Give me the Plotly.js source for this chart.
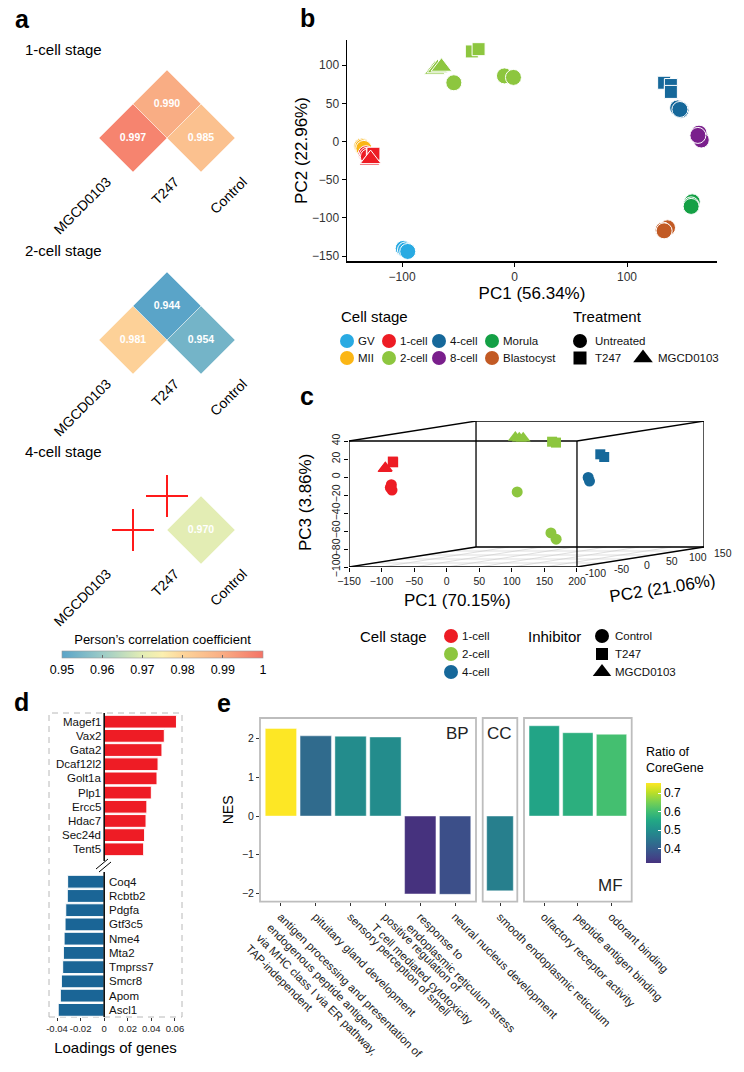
<!DOCTYPE html>
<html><head><meta charset="utf-8">
<script src="https://cdn.plot.ly/plotly-3.0.1.min.js"></script>
<style>html,body{margin:0;padding:0;background:#fff}#chart{width:744px;height:1072px}</style>
</head><body><div id="chart"></div>
<script>
const W = 744, H = 1072;
const FONT = 'Liberation Sans, Arial, Helvetica, sans-serif';

// ---------------- panel a data ----------------
const aTreatments = ['MGCD0103', 'T247', 'Control'];
const aStages = ['1-cell stage', '2-cell stage', '4-cell stage'];
const aPairFirst = [0, 0, 1];
const aPairSecond = [1, 2, 2];
const aCorr1cell = [0.997, 0.990, 0.985];
const aCorr2cell = [0.981, 0.944, 0.954];
const aCorr4cell = [null, null, 0.970];
const aScaleTicks = [0.95, 0.96, 0.97, 0.98, 0.99, 1];

// ---------------- panel b data ----------------
const bStageNames = ['GV', 'MII', '1-cell', '2-cell', '4-cell', '8-cell', 'Morula', 'Blastocyst'];
const bTreatNames = ['Untreated', 'T247', 'MGCD0103'];
const bSampleStage = ['GV','GV','GV','MII','MII','MII',
  '1-cell','1-cell','1-cell','1-cell','1-cell','1-cell','1-cell',
  '2-cell','2-cell','2-cell','2-cell','2-cell','2-cell','2-cell','2-cell',
  '4-cell','4-cell','4-cell','4-cell','4-cell','4-cell',
  '8-cell','8-cell','8-cell','Morula','Morula','Morula','Blastocyst','Blastocyst','Blastocyst'];
const bSampleTreat = ['Untreated','Untreated','Untreated','Untreated','Untreated','Untreated',
  'Untreated','Untreated','Untreated','T247','T247','MGCD0103','MGCD0103',
  'Untreated','Untreated','Untreated','T247','T247','MGCD0103','MGCD0103','MGCD0103',
  'Untreated','Untreated','Untreated','T247','T247','T247',
  'Untreated','Untreated','Untreated','Untreated','Untreated','Untreated','Untreated','Untreated','Untreated'];
const bPC1 = [-99,-97,-95, -136,-135,-134,
  -132,-131,-130,-126,-125.5,-129,-128,
  -54,-9,-1,-38,-32,-71,-68.5,-65,
  145,148,147,133,139,139,
  164,166,163, 158,157,157, 136,132,133];
const bPC2 = [-140,-142,-144, -6,-7,-9,
  -16,-18,-20,-17,-16,-25,-23,
  77,86,84,118,121,94,96,98,
  44,41,42,77,74,65,
  11,2,8, -79,-83,-85, -113,-116,-117];
const bXTicks = [-100, 0, 100];
const bYTicks = [-150, -100, -50, 0, 50, 100];

// ---------------- panel c data ----------------
const cStageNames = ['1-cell', '2-cell', '4-cell'];
const cInhibNames = ['Control', 'T247', 'MGCD0103'];
const cSampleStage = ['1-cell','1-cell','1-cell','1-cell','1-cell','1-cell','1-cell',
  '2-cell','2-cell','2-cell','2-cell','2-cell','2-cell','2-cell','2-cell',
  '4-cell','4-cell','4-cell','4-cell'];
const cSampleInhib = ['Control','Control','Control','T247','T247','MGCD0103','MGCD0103',
  'Control','Control','Control','T247','T247','MGCD0103','MGCD0103','MGCD0103',
  'Control','Control','T247','T247'];
const cPC1 = [-124,-123,-124,-129,-128,-141,-140, -1,82,90,37,43,-35,-29,-23, 108,110,111,117];
const cPC2 = [-50,-50,-52,-40,-42,-40,-42, 40,0,0,60,60,80,80,80, 40,40,60,60];
const cPC3 = [-13,-19,-16,11,12,5,4, -29,-71,-78,25,24,28,27,27, -13,-17,11,8];
const cPC1Ticks = [-150, -100, -50, 0, 50, 100, 150, 200];
const cPC2Ticks = [-100, -50, 0, 50, 100, 150];
const cPC3Ticks = [-100, -80, -60, -40, -20, 0, 20, 40];

// ---------------- panel d data ----------------
const dUpGenes = ['Magef1','Vax2','Gata2','Dcaf12l2','Golt1a','Plp1','Ercc5','Hdac7','Sec24d','Tent5'];
const dUpLoad = [0.0613,0.0510,0.0490,0.0457,0.0448,0.0400,0.0362,0.0355,0.0343,0.0335];
const dDownGenes = ['Coq4','Rcbtb2','Pdgfa','Gtf3c5','Nme4','Mta2','Tmprss7','Smcr8','Apom','Ascl1'];
const dDownLoad = [-0.0310,-0.0313,-0.0326,-0.0332,-0.0340,-0.0346,-0.0352,-0.0363,-0.0372,-0.0390];
const dTicks = [-0.04, -0.02, 0, 0.02, 0.04, 0.06];
const dTickText = ['-0.04', '-0.02', '0', '0.02', '0.04', '0.06'];

// ---------------- panel e data ----------------
const eBPTerms = ['antigen processing and presentation of<br>endogenous peptide antigen<br>via MHC class I via ER pathway,<br>TAP-independent',
  'pituitary gland development', 'sensory perception of smell',
  'positive regulation of<br>T cell mediated cytotoxicity',
  'response to<br>endoplasmic reticulum stress', 'neural nucleus development'];
const eBPNES = [2.26, 2.07, 2.06, 2.04, -2.01, -2.02];
const eBPRatio = [0.754, 0.428, 0.493, 0.493, 0.323, 0.373];
const eCCTerms = ['smooth endoplasmic reticulum'];
const eCCNES = [-1.93];
const eCCRatio = [0.468];
const eMFTerms = ['olfactory receptor activity', 'peptide antigen binding', 'odorant binding'];
const eMFNES = [2.33, 2.15, 2.11];
const eMFRatio = [0.544, 0.569, 0.604];
const eYTicks = [-2, -1, 0, 1, 2];
const eRatioTicks = [0.4, 0.5, 0.6, 0.7];

// ---------------- helpers ----------------
const fx = p => p / W;
const fy = p => 1 - p / H;
const xdom = (l, r) => [l / W, r / W];
const ydom = (t, b) => [1 - b / H, 1 - t / H];
const traces = [];
const annotations = [];
const shapes = [];
function ann(text, x, y, opt) {
  const o = {text: text, x: fx(x), y: fy(y), xref: 'paper', yref: 'paper', showarrow: false,
    xanchor: 'left', yanchor: 'middle', font: {family: FONT, size: 13, color: '#000'}};
  return Object.assign(o, opt || {});
}
function pline(x0, y0, x1, y1, color, width, dash) {
  return {type: 'line', xref: 'paper', yref: 'paper', x0: fx(x0), y0: fy(y0), x1: fx(x1), y1: fy(y1),
    line: {color: color, width: width, dash: dash || 'solid'}};
}
const hiddenAxis = {visible: false, showgrid: false, zeroline: false, fixedrange: true};

const layout = {
  width: W, height: H, margin: {l: 0, r: 0, t: 0, b: 0},
  paper_bgcolor: '#ffffff', plot_bgcolor: 'rgba(0,0,0,0)',
  showlegend: false, hovermode: false,
  font: {family: FONT, color: '#000', size: 12}
};

// ---------------- panel letters ----------------
[['a', 13, 19], ['b', 298, 18], ['c', 298, 396], ['d', 12, 702], ['e', 215, 703]].forEach(l => {
  annotations.push(ann('<b>' + l[0] + '</b>', l[1], l[2], {font: {family: FONT, size: 25, color: '#000'}}));
});

// ---------------- panel a ----------------
const aScale = [[0, '#5aa4c8'], [0.2, '#9ccbc7'], [0.4, '#e3edb4'], [0.5, '#fbefb0'],
  [0.6, '#fdd59a'], [0.8, '#f9ad84'], [1, '#f47366']];
const aValues = [aCorr1cell, aCorr2cell, aCorr4cell];
const aLevel1Px = [138, 340, 530];
const aTitlePx = [49, 251, 452];
aStages.forEach((stage, k) => {
  const xa = 'x' + (8 + k), ya = 'y' + (8 + k);
  const L1 = aLevel1Px[k];
  layout['xaxis' + (8 + k)] = {domain: xdom(65, 269), range: [-0.5, 2.5], tickvals: [0, 1, 2],
    ticktext: aTreatments, tickangle: -45, ticks: '', showline: false, showgrid: false, zeroline: false,
    anchor: 'free', position: fy(L1 + 34 - 2), ticklabelshift: 8, tickfont: {size: 14, color: '#000'}, fixedrange: true};
  layout['yaxis' + (8 + k)] = Object.assign({}, hiddenAxis, {domain: ydom(L1 - 68, L1 + 34), range: [0, 3], anchor: xa});
  annotations.push(ann(stage, 23, aTitlePx[k], {font: {family: FONT, size: 15, color: '#000'}}));
  const vals = aValues[k];
  const cx = [], cy = [], cv = [], nx = [], ny = [];
  vals.forEach((v, p) => {
    const a = aPairFirst[p], b = aPairSecond[p];
    if (v === null) { nx.push((a + b) / 2); ny.push(b - a); }
    else { cx.push((a + b) / 2); cy.push(b - a); cv.push(v); }
  });
  const marker = {symbol: 'diamond', size: 52.3, color: cv, colorscale: aScale, cmin: 0.95, cmax: 1,
    line: {color: 'rgba(255,255,255,0.7)', width: 0.6}, showscale: k === 0};
  if (k === 0) {
    marker.colorbar = {orientation: 'h', x: fx(162.5), xanchor: 'center', y: fy(636), yanchor: 'top',
      lenmode: 'pixels', len: 201, thicknessmode: 'pixels', thickness: 7,
      title: {text: 'Person\u2019s correlation coefficient', side: 'top', font: {size: 13, family: FONT}},
      tickvals: aScaleTicks, ticktext: aScaleTicks.map(v => String(v)), ticks: 'inside', ticklen: 3,
      tickcolor: '#666', tickfont: {size: 12.5, family: FONT}, outlinewidth: 0.6, outlinecolor: '#999',
      xpad: 0, ypad: 0};
  }
  traces.push({type: 'scatter', mode: 'markers+text', x: cx, y: cy, xaxis: xa, yaxis: ya,
    marker: marker, text: cv.map(v => v.toFixed(3)), textposition: 'middle center',
    textfont: {color: '#ffffff', size: 10.5, family: FONT, weight: 'bold'}, cliponaxis: false, hoverinfo: 'skip'});
  if (nx.length) {
    traces.push({type: 'scatter', mode: 'markers', x: nx, y: ny, xaxis: xa, yaxis: ya, cliponaxis: false,
      marker: {symbol: 'cross-thin', size: 30, line: {color: '#ff1a1a', width: 2}}, hoverinfo: 'skip'});
  }
});

// ---------------- panel b ----------------
const stageColor = {'GV': '#29aae2', 'MII': '#fbb615', '1-cell': '#ed1c24', '2-cell': '#8dc63f',
  '4-cell': '#16689a', '8-cell': '#7a1f8c', 'Morula': '#14a045', 'Blastocyst': '#c25a24'};
const treatSymbol = {'Untreated': 'circle', 'T247': 'square', 'MGCD0103': 'triangle-up',
  'Control': 'circle'};
const symSizeB = {'circle': 16, 'square': 13, 'triangle-up': 18};
layout.xaxis = {domain: xdom(347, 717), range: [-149, 180], tickvals: bXTicks, ticks: 'outside', ticklen: 4,
  tickcolor: '#000', showline: true, linecolor: '#000', linewidth: 1.5, showgrid: false, zeroline: false,
  tickfont: {size: 12, color: '#333'}, anchor: 'y', fixedrange: true, tickangle: 0,
  title: {text: 'PC1 (56.34%)', font: {size: 17, family: FONT}, standoff: 0}};
layout.yaxis = {domain: ydom(40, 261), range: [-156.5, 133], tickvals: bYTicks, ticks: 'outside', ticklen: 4,
  tickcolor: '#000', showline: true, linecolor: '#000', linewidth: 1.5, showgrid: false, zeroline: false,
  tickfont: {size: 12, color: '#333'}, anchor: 'x', fixedrange: true,
  title: {text: 'PC2 (22.96%)', font: {size: 17, family: FONT}, standoff: 0}};
bStageNames.forEach(st => {
  bTreatNames.forEach(tr => {
    const idx = bSampleStage.map((s, i) => i).filter(i => bSampleStage[i] === st && bSampleTreat[i] === tr);
    if (!idx.length) return;
    const sym = treatSymbol[tr];
    traces.push({type: 'scatter', mode: 'markers', x: idx.map(i => bPC1[i]), y: idx.map(i => bPC2[i]),
      xaxis: 'x', yaxis: 'y', cliponaxis: false, hoverinfo: 'skip',
      marker: {symbol: sym, size: symSizeB[sym], color: stageColor[st], line: {color: '#ffffff', width: 1}}});
  });
});

// overlay pixel axis for legends
layout.xaxis11 = Object.assign({}, hiddenAxis, {domain: [0, 1], range: [0, W], anchor: 'y11'});
layout.yaxis11 = Object.assign({}, hiddenAxis, {domain: [0, 1], range: [H, 0], anchor: 'x11'});

// legend b
annotations.push(ann('Cell stage', 339, 317, {font: {family: FONT, size: 15, color: '#000'}}));
annotations.push(ann('Treatment', 571, 317, {font: {family: FONT, size: 15, color: '#000'}}));
const bLegCols = [347, 389, 439, 492], bLegRows = [341, 358];
bStageNames.forEach((st, i) => {
  const x = bLegCols[Math.floor(i / 2)], y = bLegRows[i % 2];
  traces.push({type: 'scatter', mode: 'markers', x: [x], y: [y], xaxis: 'x11', yaxis: 'y11', hoverinfo: 'skip',
    marker: {symbol: 'circle', size: 14, color: stageColor[st]}});
  annotations.push(ann(st, x + 9, y, {font: {family: FONT, size: 11.5, color: '#111'}}));
});
const bTreatLeg = [[580, 341], [580, 358], [643, 358]];
bTreatNames.forEach((tr, i) => {
  const sym = treatSymbol[tr];
  traces.push({type: 'scatter', mode: 'markers', x: [bTreatLeg[i][0]], y: [bTreatLeg[i][1]], xaxis: 'x11', yaxis: 'y11',
    hoverinfo: 'skip', marker: {symbol: sym, size: sym === 'triangle-up' ? 17 : (sym === 'square' ? 13 : 14), color: '#000'}});
  annotations.push(ann(tr, bTreatLeg[i][0] + 13, bTreatLeg[i][1], {font: {family: FONT, size: 11.5, color: '#111'}}));
});

// ---------------- panel c ----------------
const cPC2Min = -100, cPC2Max = 150;
const cDepthX = 0.780, cDepthZ = 0.0889;   // oblique projection of PC2 depth
const projX = (a, b) => a + (b - cPC2Min) * cDepthX;
const projZ = (c, b) => c + (b - cPC2Min) * cDepthZ;
const cX0 = cPC1Ticks[0], cX1 = cPC1Ticks[cPC1Ticks.length - 1];
const cZ0 = cPC3Ticks[0], cZ1 = cPC3Ticks[cPC3Ticks.length - 1];
layout.xaxis2 = {domain: xdom(349, 704), range: [cX0, projX(cX1, cPC2Max)], tickvals: cPC1Ticks, tickangle: 0,
  ticks: 'outside', ticklen: 4, tickcolor: '#000', showline: false, showgrid: false, zeroline: false,
  tickfont: {size: 10.5, color: '#222'}, anchor: 'y2', fixedrange: true};
layout.yaxis2 = {domain: ydom(421, 567), range: [cZ0, projZ(cZ1, cPC2Max)], tickvals: cPC3Ticks, tickangle: -90,
  ticks: 'outside', ticklen: 4, tickcolor: '#000', showline: false, showgrid: false, zeroline: false,
  tickfont: {size: 10.5, color: '#222'}, anchor: 'x2', fixedrange: true};
function cshape(p, q, color, width, layer) {
  return {type: 'line', xref: 'x2', yref: 'y2', x0: projX(p[0], p[1]), y0: projZ(p[2], p[1]),
    x1: projX(q[0], q[1]), y1: projZ(q[2], q[1]), line: {color: color, width: width}, layer: layer || 'above'};
}
// floor grid
cPC2Ticks.forEach(b => shapes.push(cshape([cX0, b, cZ0], [cX1, b, cZ0], '#c9c9c9', 0.6, 'below')));
cPC1Ticks.forEach(a => shapes.push(cshape([a, cPC2Min, cZ0], [a, cPC2Max, cZ0], '#c9c9c9', 0.6, 'below')));
// box edges
const corners = [];
[cX0, cX1].forEach(a => [cPC2Min, cPC2Max].forEach(b => [cZ0, cZ1].forEach(c => corners.push([a, b, c]))));
for (let i = 0; i < corners.length; i++) for (let j = i + 1; j < corners.length; j++) {
  const p = corners[i], q = corners[j];
  const diff = (p[0] !== q[0]) + (p[1] !== q[1]) + (p[2] !== q[2]);
  if (diff === 1) shapes.push(cshape(p, q, '#000', 1.3, 'below'));
}
// PC2 tick labels
cPC2Ticks.forEach(b => annotations.push({text: String(b), x: projX(cX1, b), y: projZ(cZ0, b), xref: 'x2', yref: 'y2',
  showarrow: false, xanchor: 'center', yanchor: 'middle', xshift: 19, yshift: -6, font: {family: FONT, size: 10.5, color: '#222'}}));
const cColor = {'1-cell': '#ed1c24', '2-cell': '#8dc63f', '4-cell': '#16689a'};
const symSizeC = {'circle': 11, 'square': 10, 'triangle-up': 13};
cStageNames.forEach(st => {
  cInhibNames.forEach(inh => {
    const idx = cSampleStage.map((s, i) => i).filter(i => cSampleStage[i] === st && cSampleInhib[i] === inh);
    if (!idx.length) return;
    const sym = treatSymbol[inh];
    traces.push({type: 'scatter', mode: 'markers', xaxis: 'x2', yaxis: 'y2', cliponaxis: false, hoverinfo: 'skip',
      x: idx.map(i => projX(cPC1[i], cPC2[i])), y: idx.map(i => projZ(cPC3[i], cPC2[i])),
      marker: {symbol: sym, size: symSizeC[sym], color: cColor[st]}});
  });
});
annotations.push(ann('PC1 (70.15%)', 457, 600, {xanchor: 'center', font: {family: FONT, size: 17, color: '#000'}}));
annotations.push(ann('PC3 (3.86%)', 305, 503, {xanchor: 'center', textangle: -90, font: {family: FONT, size: 17, color: '#000'}}));
annotations.push(ann('PC2 (21.06%)', 662, 588, {xanchor: 'center', textangle: -9, font: {family: FONT, size: 17, color: '#000'}}));
// legend c
annotations.push(ann('Cell stage', 358, 636, {font: {family: FONT, size: 15, color: '#000'}}));
annotations.push(ann('Inhibitor', 526, 636, {font: {family: FONT, size: 15, color: '#000'}}));
const cLegRows = [636, 654, 672];
cStageNames.forEach((st, i) => {
  traces.push({type: 'scatter', mode: 'markers', x: [451], y: [cLegRows[i]], xaxis: 'x11', yaxis: 'y11', hoverinfo: 'skip',
    marker: {symbol: 'circle', size: 14, color: cColor[st]}});
  annotations.push(ann(st, 460, cLegRows[i], {font: {family: FONT, size: 11.5, color: '#111'}}));
});
cInhibNames.forEach((inh, i) => {
  const sym = treatSymbol[inh];
  traces.push({type: 'scatter', mode: 'markers', x: [602], y: [cLegRows[i]], xaxis: 'x11', yaxis: 'y11', hoverinfo: 'skip',
    marker: {symbol: sym, size: sym === 'triangle-up' ? 16 : (sym === 'square' ? 12 : 14), color: '#000'}});
  annotations.push(ann(inh, 613, cLegRows[i], {font: {family: FONT, size: 11.5, color: '#111'}}));
});

// ---------------- panel d ----------------
layout.xaxis3 = {domain: xdom(49, 182), range: [-0.0468, 0.066], tickvals: dTicks, ticktext: dTickText, tickangle: 0,
  ticks: 'outside', ticklen: 3, tickcolor: '#333', showline: false, showgrid: false, zeroline: false,
  tickfont: {size: 9.5, color: '#222'}, anchor: 'y4', fixedrange: true,
  title: {text: 'Loadings of genes', font: {size: 15, family: FONT}, standoff: 9}};
layout.yaxis3 = {domain: ydom(714.6, 856.4), type: 'category', categoryarray: dUpGenes, range: [9.5, -0.5],
  visible: false, anchor: 'x3', fixedrange: true};
layout.yaxis4 = {domain: ydom(874.6, 1017), type: 'category', categoryarray: dDownGenes, range: [9.5, -0.5],
  visible: false, anchor: 'x3', fixedrange: true};
traces.push({type: 'bar', orientation: 'h', x: dUpLoad, y: dUpGenes, xaxis: 'x3', yaxis: 'y3', width: 0.9,
  marker: {color: '#ee1c25', line: {color: '#ffffff', width: 1}}, hoverinfo: 'skip'});
traces.push({type: 'bar', orientation: 'h', x: dDownLoad, y: dDownGenes, xaxis: 'x3', yaxis: 'y4', width: 0.9,
  marker: {color: '#1a6596', line: {color: '#ffffff', width: 1}}, hoverinfo: 'skip'});
dUpGenes.forEach((g, i) => annotations.push({text: g, x: 0, y: i, xref: 'x3', yref: 'y3', showarrow: false,
  xanchor: 'right', yanchor: 'middle', xshift: -1, font: {family: FONT, size: 11.5, color: '#111'}}));
dDownGenes.forEach((g, i) => annotations.push({text: g, x: 0, y: i, xref: 'x3', yref: 'y4', showarrow: false,
  xanchor: 'left', yanchor: 'middle', xshift: 3, font: {family: FONT, size: 11.5, color: '#111'}}));
shapes.push({type: 'rect', xref: 'paper', yref: 'paper', x0: fx(49), x1: fx(182), y0: fy(1017), y1: fy(713),
  line: {color: '#b8b8b8', width: 1, dash: '6px,5px'}, layer: 'below'});
shapes.push({type: 'line', xref: 'x3', yref: 'paper', x0: 0, x1: 0, y0: fy(713), y1: fy(861), line: {color: '#000', width: 1.5}});
shapes.push({type: 'line', xref: 'x3', yref: 'paper', x0: 0, x1: 0, y0: fy(872), y1: fy(1017), line: {color: '#000', width: 1.5}});
shapes.push(pline(96, 869, 108, 859, '#000', 1));
shapes.push(pline(99, 872, 111, 862, '#000', 1));

// ---------------- panel e ----------------
const eScale = [[0, '#46327e'], [0.0698, '#414487'], [0.186, '#355f8d'], [0.302, '#2a788e'], [0.419, '#21918c'],
  [0.535, '#22a884'], [0.651, '#44bf70'], [0.767, '#7ad151'], [0.884, '#bddf26'], [1, '#fde725']];
const eAllRatio = eBPRatio.concat(eCCRatio, eMFRatio);
const eMin = Math.min.apply(null, eAllRatio), eMax = Math.max.apply(null, eAllRatio);
layout.yaxis5 = {domain: ydom(718, 901.7), range: [-2.21, 2.53], tickvals: eYTicks, ticks: 'outside', ticklen: 3,
  tickcolor: '#333', showline: false, showgrid: false, zeroline: false, tickfont: {size: 10.5, color: '#222'},
  anchor: 'x5', fixedrange: true, title: {text: 'NES', font: {size: 14, family: FONT}, standoff: 5}};
const eAxisCommon = {type: 'category', ticks: 'outside', ticklen: 3, tickcolor: '#333', tickangle: 45,
  showline: false, showgrid: false, zeroline: false, tickfont: {size: 11.5, color: '#222'}, anchor: 'y5', fixedrange: true};
layout.xaxis5 = Object.assign({}, eAxisCommon, {domain: xdom(260, 476), range: [-0.6, 5.6], categoryarray: eBPTerms});
layout.xaxis6 = Object.assign({}, eAxisCommon, {domain: xdom(482.7, 517.3), range: [-0.585, 0.585], categoryarray: eCCTerms});
layout.xaxis7 = Object.assign({}, eAxisCommon, {domain: xdom(524, 631.7), range: [-0.6, 2.6], categoryarray: eMFTerms});
function eBar(terms, nes, ratio, xa, showscale) {
  const m = {color: ratio, colorscale: eScale, cmin: eMin, cmax: eMax, showscale: showscale,
    line: {color: 'rgba(255,255,255,0.55)', width: 0.8}};
  if (showscale) {
    m.colorbar = {x: fx(645.5), xanchor: 'left', y: fy(783), yanchor: 'top', lenmode: 'pixels', len: 80,
      thicknessmode: 'pixels', thickness: 15,
      tickvals: eRatioTicks, ticks: 'inside', ticklen: 3, tickcolor: '#ffffff', tickfont: {size: 12, family: FONT},
      outlinewidth: 0, xpad: 0, ypad: 0};
  }
  return {type: 'bar', x: terms, y: nes, xaxis: xa, yaxis: 'y5', width: 0.9, marker: m, hoverinfo: 'skip'};
}
traces.push(eBar(eBPTerms, eBPNES, eBPRatio, 'x5', true));
traces.push(eBar(eCCTerms, eCCNES, eCCRatio, 'x6', false));
traces.push(eBar(eMFTerms, eMFNES, eMFRatio, 'x7', false));
annotations.push(ann('Ratio of<br>CoreGene', 644, 760, {align: 'left', font: {family: FONT, size: 12.5, color: '#000'}}));
[[260, 476], [482.7, 517.3], [524, 631.7]].forEach(d => shapes.push({type: 'rect', xref: 'paper', yref: 'paper',
  x0: fx(d[0]), x1: fx(d[1]), y0: fy(901.7), y1: fy(718), line: {color: '#bdbdbd', width: 1.8}}));
annotations.push(ann('BP', 457, 733, {xanchor: 'center', font: {family: FONT, size: 17, color: '#222'}}));
annotations.push(ann('CC', 500, 733, {xanchor: 'center', font: {family: FONT, size: 17, color: '#222'}}));
annotations.push(ann('MF', 610, 885, {xanchor: 'center', font: {family: FONT, size: 17, color: '#222'}}));

layout.annotations = annotations;
layout.shapes = shapes;
Plotly.newPlot('chart', traces, layout, {staticPlot: true, displayModeBar: false});
</script>
</body></html>
